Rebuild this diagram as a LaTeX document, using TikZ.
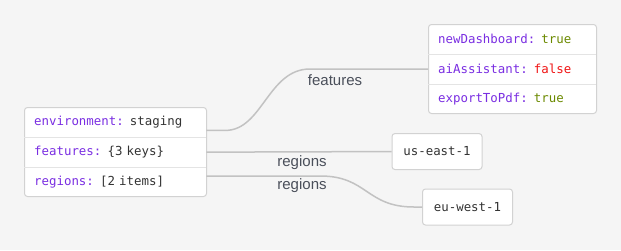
\documentclass[tikz,border=0pt]{standalone}
\usepackage{fontspec}
\setmonofont{DejaVu Sans Mono}
\setsansfont{Liberation Sans}
\usetikzlibrary{calc}
\definecolor{fondo}{HTML}{F5F5F5}
\definecolor{borde}{HTML}{D2D2D2}
\definecolor{divisor}{HTML}{E4E4E4}
\definecolor{enlacegris}{HTML}{C2C2C2}
\definecolor{violeta}{HTML}{7A2EE2}
\definecolor{oliva}{HTML}{6C8A00}
\definecolor{rojo}{HTML}{F01414}
\definecolor{texto}{HTML}{333333}
\definecolor{etiq}{HTML}{4A4F5A}
\newcommand{\clave}[1]{\textcolor{violeta}{#1}}
\tikzset{
  caja/.style={rectangle, rounded corners=3pt, draw=borde, fill=white, line width=1pt,
               anchor=north west, inner sep=0pt},
  fila/.style={rectangle, anchor=north west, inner xsep=10pt, inner ysep=0pt,
               minimum height=29.7pt, text width=#1, align=left, text=texto,
               font=\ttfamily\fontsize{12.4}{14}\selectfont},
  hoja/.style={rectangle, rounded corners=3pt, draw=borde, fill=white, line width=1pt,
               minimum width=90pt, minimum height=36pt, text=texto,
               font=\ttfamily\fontsize{12.4}{14}\selectfont},
  divisor/.style={draw=divisor, line width=0.8pt},
  enlace/.style={draw=enlacegris, line width=1.5pt},
  etiqueta/.style={font=\sffamily\fontsize{15}{18}\selectfont, text=etiq, inner sep=0pt}
}
\begin{document}
\begin{tikzpicture}[x=1pt, y=-1pt]
  \fill [fondo] (0,0) rectangle (621,250);
  \useasboundingbox (0,0) rectangle (621,250);
  % objeto raiz
  \node (raiz) [caja, minimum width=182pt, minimum height=89pt] at (24,107) {};
  \node (filaEntorno) [fila=162pt] at (raiz.north west) {\clave{environment:} staging};
  \node (filaFeatures) [fila=162pt] at (filaEntorno.south west) {\clave{features:} \{3 keys\}};
  \node (filaRegiones) [fila=162pt] at (filaFeatures.south west) {\clave{regions:} [2 items]};
  \draw [divisor] (filaEntorno.south west) -- (filaEntorno.south east);
  \draw [divisor] (filaFeatures.south west) -- (filaFeatures.south east);
  % objeto features
  \node (features) [caja, minimum width=168pt, minimum height=89pt] at (428,24) {};
  \node (filaDash) [fila=148pt] at (features.north west) {\clave{newDashboard:} \textcolor{oliva}{true}};
  \node (filaAsist) [fila=148pt] at (filaDash.south west) {\clave{aiAssistant:} \textcolor{rojo}{false}};
  \node (filaPdf) [fila=148pt] at (filaAsist.south west) {\clave{exportToPdf:} \textcolor{oliva}{true}};
  \draw [divisor] (filaDash.south west) -- (filaDash.south east);
  \draw [divisor] (filaAsist.south west) -- (filaAsist.south east);
  % regiones
  \node (useast) [hoja] at (437,151.55) {us-east-1};
  \node (euwest) [hoja] at (467.5,207) {eu-west-1};
  % enlaces
  \draw [enlace] ([yshift=6.7pt]filaEntorno.south east) -- ++(19,0)
        .. controls +(37,0) and +(-42,0) .. ($(features.west)+(-118,0)$) -- (features.west);
  \draw [enlace] (filaFeatures.east) -- (useast.west);
  \draw [enlace] ([yshift=6.25pt]filaRegiones.east) -- ++(114,0)
        .. controls +(47,0) and +(-48,0) .. ($(euwest.west)+(-8,0)$) -- (euwest.west);
  \node (etiqFeatures) [etiqueta] at (335,80) {features};
  \node (etiqRegiones) [etiqueta] at (302,163) {regions};
  \node (etiqRegionesB) [etiqueta] at (302,186) {regions};
\end{tikzpicture}
\end{document}
